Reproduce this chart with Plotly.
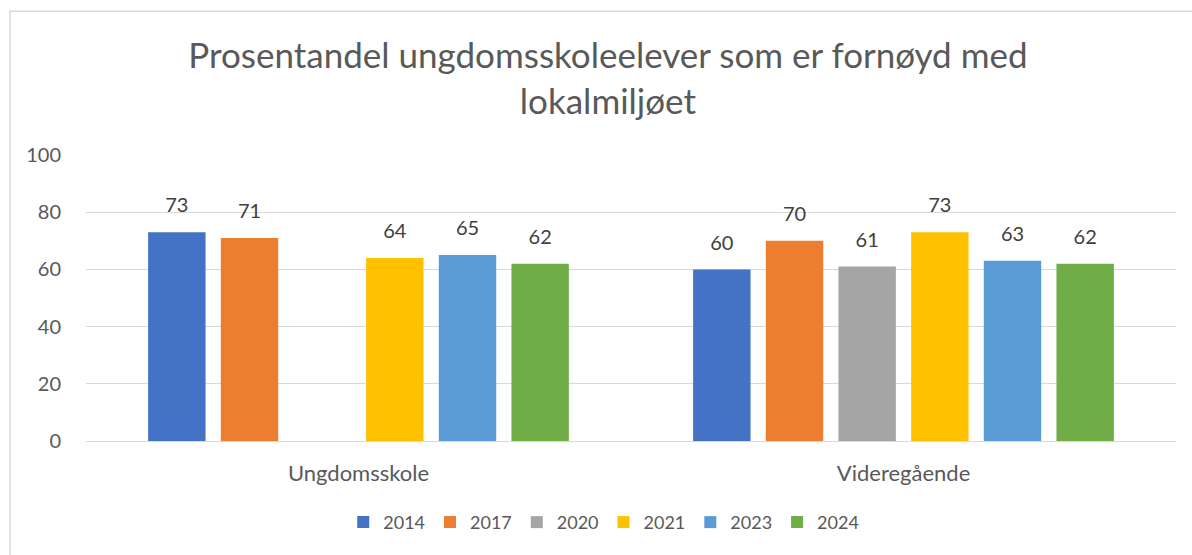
import plotly.graph_objects as go

categories = ["Ungdomsskole", "Videregående"]
years = ["2014", "2017", "2020", "2021", "2023", "2024"]
values_2014 = [73, 60]
values_2017 = [71, 70]
values_2020 = [None, 61]
values_2021 = [64, 73]
values_2023 = [65, 63]
values_2024 = [62, 62]
colors = ["#4472C4", "#ED7D31", "#A5A5A5", "#FFC000", "#5B9BD5", "#70AD47"]

series = [values_2014, values_2017, values_2020, values_2021, values_2023, values_2024]

fig = go.Figure()
for year, vals, col in zip(years, series, colors):
    fig.add_trace(go.Bar(
        name=year, x=categories, y=vals,
        marker=dict(color=col, line=dict(width=0)),
    ))
# data labels, grouped the same way as the bars
for year, vals in zip(years, series):
    fig.add_trace(go.Scatter(
        x=categories, y=vals, mode="markers+text", showlegend=False,
        text=[("" if v is None else str(v)) for v in vals],
        textposition="top center", cliponaxis=False, hoverinfo="skip",
        marker=dict(size=22, opacity=0),
        textfont=dict(size=20, color="#404040"),
    ))

font = "Lato, Calibri, sans-serif"
fig.update_layout(
    width=1192, height=555,
    margin=dict(l=86, r=16, t=155, b=114),
    paper_bgcolor="white", plot_bgcolor="white",
    font=dict(family=font, color="#595959", size=18),
    title=dict(text="Prosentandel ungdomsskoleelever som er fornøyd med<br>lokalmiljøet",
               xref="container", x=0.51, xanchor="center",
               yref="container", y=1 - 68 / 555, yanchor="middle",
               font=dict(size=35, color="#595959")),
    barmode="group", bargap=0.2, bargroupgap=0.21,
    scattermode="group", scattergap=0.2,
    showlegend=True,
    legend=dict(orientation="h", x=0.475, xanchor="center", y=-0.22, yanchor="top",
                font=dict(size=18, color="#595959"), traceorder="normal"),
    yaxis=dict(range=[0, 100], dtick=20, showgrid=True, gridcolor="#D9D9D9", gridwidth=1.3,
               zeroline=False, showline=False, ticks="", ticklabelstandoff=24,
               tickfont=dict(size=20, color="#595959")),
    xaxis=dict(showline=True, linecolor="#D9D9D9", linewidth=1.3, ticks="",
               ticklabelstandoff=12,
               tickfont=dict(size=22, color="#595959")),
    shapes=[dict(type="rect", xref="paper", yref="paper", x0=-0.0697, x1=1.2,
                 y0=-1, y1=1.503, line=dict(color="#D9D9D9", width=1.5),
                 fillcolor="rgba(0,0,0,0)", layer="below")],
)

fig.write_html("out.html", config={"displayModeBar": False},
               post_script="document.body.style.margin='0px';")
